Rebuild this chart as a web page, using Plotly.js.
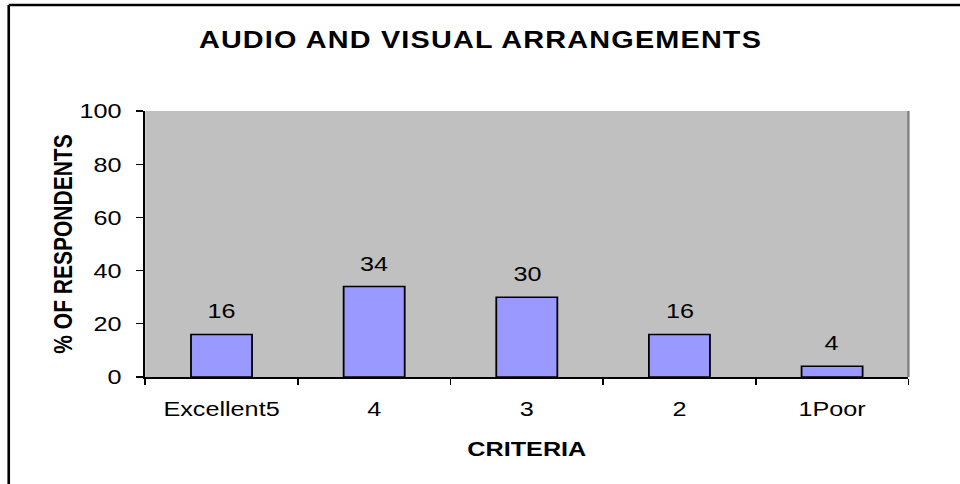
<!DOCTYPE html>
<html>
<head>
<meta charset="utf-8">
<script src="https://cdn.plot.ly/plotly-3.0.1.min.js"></script>
<style>
html,body{margin:0;padding:0;background:#fff;overflow:hidden;}
#wrap{width:960px;height:484px;overflow:hidden;position:relative;}
/* the reference picture is stretched horizontally by about 1.2 */
#chart{width:800px;height:484px;transform:scaleX(1.2);transform-origin:0 0;}
#chart .gtitle{letter-spacing:1px;}
</style>
</head>
<body>
<div id="wrap"><div id="chart"></div></div>
<script>
const categories = ["Excellent5", "4", "3", "2", "1Poor"];
const percentValues = [16, 34, 30, 16, 4];
const yTickValues = [0, 20, 40, 60, 80, 100];

const FONT = "Liberation Sans, Arial, sans-serif";

const trace = {
  type: "bar",
  x: categories,
  y: percentValues,
  width: 0.4,
  marker: {color: "#9999FF", line: {color: "#000000", width: 1.5}},
  hoverinfo: "skip"
};

// value labels above bars; x given as category index
const valueLabels = categories.map((c, i) => ({
  x: i, y: percentValues[i], xref: "x", yref: "y",
  text: String(percentValues[i]),
  showarrow: false, yanchor: "bottom", yshift: 10,
  font: {family: FONT, size: 21, color: "#000"}
}));

const layout = {
  width: 800, height: 484,
  margin: {l: 120.8, r: 43.3, t: 111, b: 107},
  paper_bgcolor: "#ffffff",
  plot_bgcolor: "#C0C0C0",
  showlegend: false,
  title: {
    text: "<b>AUDIO AND VISUAL ARRANGEMENTS</b>",
    font: {family: FONT, size: 24, color: "#000"},
    x: 400.4 / 800, xanchor: "center", y: 1 - 40 / 484, yanchor: "middle"
  },
  xaxis: {
    type: "category",
    tickson: "boundaries",
    ticks: "outside", ticklen: 6, tickwidth: 1.3, tickcolor: "#000",
    ticklabelstandoff: 12,
    showline: true, linecolor: "#000", linewidth: 1.5,
    showgrid: false, zeroline: false,
    tickfont: {family: FONT, size: 21, color: "#000"},
    title: {text: "<b>CRITERIA</b>", standoff: 22,
      font: {family: FONT, size: 21, color: "#000"}}
  },
  yaxis: {
    range: [0, 100],
    tickvals: yTickValues,
    ticks: "outside", ticklen: 6, tickwidth: 1.3, tickcolor: "#000",
    ticklabelstandoff: 8,
    showline: true, linecolor: "#000", linewidth: 1.5,
    showgrid: false, zeroline: false,
    tickfont: {family: FONT, size: 21, color: "#000"},
    title: {text: "<b>% OF RESPONDENTS</b>", standoff: 0,
      font: {family: FONT, size: 21, color: "#000"}}
  },
  annotations: valueLabels,
  shapes: [
    {type: "line", xref: "paper", yref: "paper", x0: 1, x1: 1, y0: 0, y1: 1,
     line: {color: "#808080", width: 2}},
    {type: "line", xref: "paper", yref: "paper", x0: -0.1788, x1: 1.2, y0: 1.3985, y1: 1.3985,
     line: {color: "#000", width: 2.5}},
    {type: "line", xref: "paper", yref: "paper", x0: -0.1788, x1: -0.1788, y0: 1.3985, y1: -0.5,
     line: {color: "#000", width: 2.2}}
  ]
};

Plotly.newPlot("chart", [trace], layout, {displayModeBar: false, staticPlot: true});
</script>
</body>
</html>
